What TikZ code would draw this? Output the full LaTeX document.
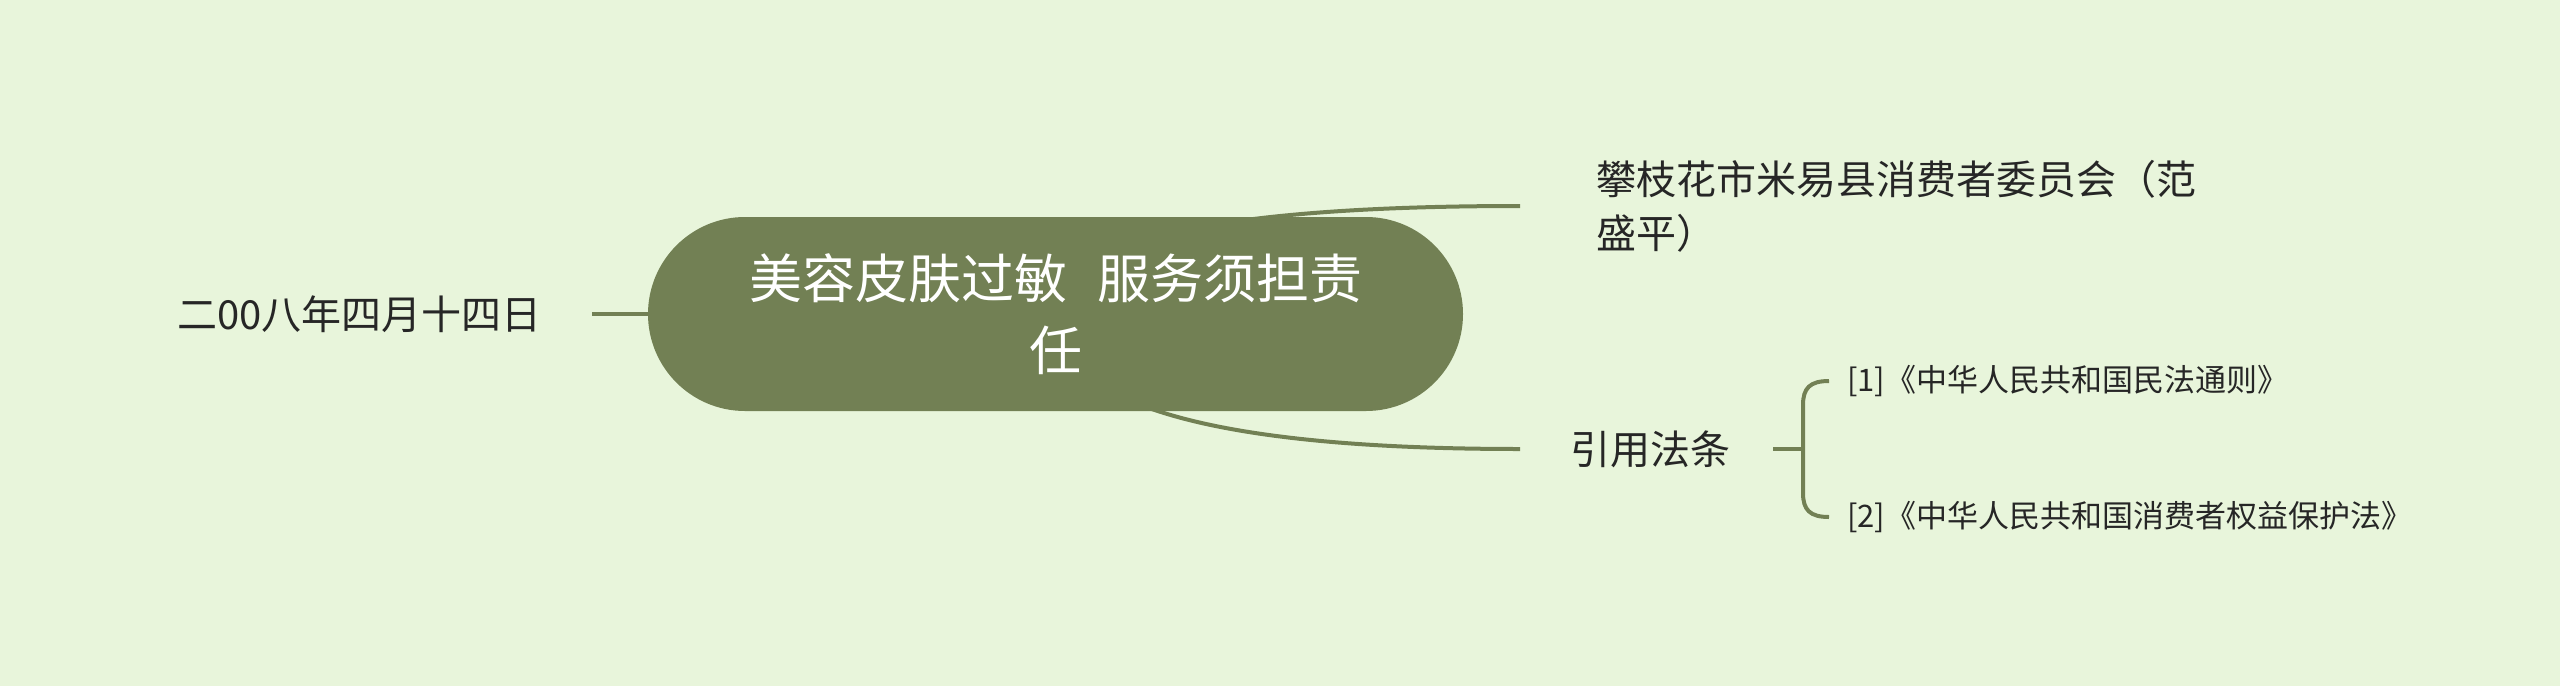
\documentclass[tikz,border=0pt]{standalone}
\usepackage{fontspec}
\setmainfont{Noto Sans CJK SC}
\definecolor{bgc}{RGB}{232,245,219}
\definecolor{olive}{RGB}{114,128,84}
\definecolor{txt}{RGB}{38,38,38}
\pgfdeclarelayer{bglayer}
\pgfdeclarelayer{edgelayer}
\pgfsetlayers{bglayer,edgelayer,main}
\begin{document}
\begin{tikzpicture}[x=1pt,y=-1pt,
  link/.style={draw=olive,line width=4pt},
  rootbox/.style={fill=olive,text=white,rounded corners=97pt,minimum width=815pt,
    minimum height=194pt,inner sep=0pt,align=center,font=\fontsize{53}{72}\selectfont},
  leaf/.style={text=txt,inner ysep=0pt,anchor=west},
  lvone/.style={font=\fontsize{40}{54}\selectfont},
  lvtwo/.style={font=\fontsize{31}{36}\selectfont}]
\begin{pgfonlayer}{bglayer}
\fill[bgc] (0,0) rectangle (2560,686);
\end{pgfonlayer}
\useasboundingbox (0,0) rectangle (2560,686);

\node[rootbox] (root) at (1055.5,314) {美容皮肤过敏\hspace{30pt}服务须担责\\任};
\node[leaf,lvone,anchor=east,inner xsep=50pt] (date) at (592,314) {二00八年四月十四日};
\node[leaf,lvone,inner xsep=76pt,align=left] (top) at (1520,206) {攀枝花市米易县消费者委员会（范\\盛平）};
\node[leaf,lvone,inner xsep=50pt] (yin) at (1520,449) {引用法条};
\node[leaf,lvtwo,inner xsep=18pt] (r1) at (1829,381) {[1]《中华人民共和国民法通则》};
\node[leaf,lvtwo,inner xsep=18pt] (r2) at (1829,517) {[2]《中华人民共和国消费者权益保护法》};

\coordinate (br) at (1803,449);
\coordinate (brtop) at (1803,405);
\coordinate (brbot) at (1803,493);

\begin{pgfonlayer}{edgelayer}
\draw[link] (date.east) -- (root.west);
\draw[link] (root.center) .. controls +(0,-72) and +(-310,0) .. (top.west);
\draw[link] (root.center) .. controls +(0,90) and +(-310,0) .. (yin.west);
\draw[link] ([xshift=-7pt]yin.east) -- (br);
\draw[link] (r1.west) .. controls (1810,381) and (1803,388) .. (brtop) -- (brbot)
  .. controls (1803,510) and (1810,517) .. (r2.west);
\end{pgfonlayer}
\end{tikzpicture}
\end{document}
